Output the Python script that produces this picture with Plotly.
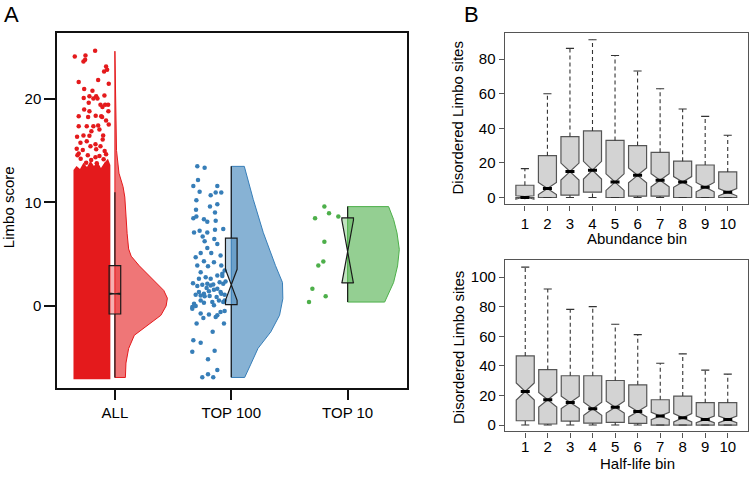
import plotly.graph_objects as go

W, H = 749, 477
FONT = "Liberation Sans, Arial, Helvetica, sans-serif"

# ---------------- Panel A data ----------------
groups = ["ALL", "TOP 100", "TOP 10"]
group_pos = [1, 2, 3]
point_colors = ["#E41A1C", "#377EB8", "#4DAF4A"]
violin_fills = ["rgba(228,26,28,0.6)", "rgba(55,126,184,0.6)", "rgba(77,175,74,0.6)"]
box_fills = ["rgba(228,26,28,0.35)", "rgba(55,126,184,0.35)", "rgba(77,175,74,0.35)"]

box_q1 = [-0.77, 0.13, 2.22]
box_median = [1.18, 2.04, 5.24]
box_q3 = [3.89, 6.54, 8.49]
box_low = [-6.89, -6.87, 0.38]
box_high = [10.97, 13.46, 9.58]
box_notch = [0.06, 1.5, 3.05]

# half-violin density profiles (relative half-widths, category units)
all_violin_y = [-6.89, -5.5, -4.1, -2.82, -1.86, -0.9, 0.0, 0.75, 1.5, 2.27, 3.1, 3.87,
                4.8, 5.5, 7.0, 9.0, 10.5, 11.5, 12.8, 15.0, 20.0, 24.56]
all_violin_w = [0.090, 0.095, 0.118, 0.167, 0.279, 0.395, 0.44, 0.451, 0.42, 0.352, 0.27,
                0.210, 0.14, 0.118, 0.105, 0.095, 0.085, 0.07, 0.035, 0.014, 0.008, 0.004]
top100_violin_y = [-6.89, -5.68, -4.08, -2.49, -0.89, 0.7, 2.27, 3.89, 5.5, 7.08, 10.27, 13.46]
top100_violin_w = [0.115, 0.165, 0.23, 0.34, 0.415, 0.443, 0.44, 0.38, 0.325, 0.275, 0.189, 0.112]
top10_violin_y = [0.38, 2.27, 3.86, 5.45, 7.05, 8.33, 9.58]
top10_violin_w = [0.318, 0.395, 0.429, 0.444, 0.424, 0.395, 0.352]

# ALL: dense cloud of points (outline of the solid block) and sparse high points
all_cloud_x = [-0.356, -0.356, -0.33, -0.30, -0.27, -0.24, -0.21, -0.18, -0.15, -0.12, -0.09,
               -0.06, -0.039, -0.039]
all_cloud_y = [-7.05, 13.1, 13.5, 13.2, 13.8, 13.4, 14.0, 13.5, 13.9, 13.3, 13.8, 14.2, 13.6, -7.05]
all_high_x = [-0.345, -0.253, -0.170, -0.270, -0.256, -0.076, -0.067, -0.093, -0.311, -0.053,
              -0.144, -0.264, -0.193, -0.219, -0.161, -0.185, -0.268, -0.150, -0.090, -0.225,
              -0.124, -0.084, -0.058, -0.107, -0.264, -0.219, -0.165, -0.118, -0.230, -0.110,
              -0.311, -0.076, -0.056, -0.311, -0.242, -0.144, -0.185, -0.053, -0.202, -0.133,
              -0.101, -0.270, -0.219, -0.325, -0.105, -0.296, -0.242, -0.167, -0.124, -0.328,
              -0.276, -0.161, -0.210, -0.088, -0.311, -0.322, -0.233, -0.133, -0.076, -0.167,
              -0.097, -0.294, -0.204, -0.247, -0.156, -0.076]
all_high_y = [24.05, 24.15, 24.6, 23.57, 23.73, 23.09, 22.77, 22.61, 21.59, 21.43,
              21.78, 20.92, 20.76, 20.21, 20.21, 19.99, 20.06, 19.99, 20.28, 19.58,
              19.41, 19.41, 19.41, 19.19, 18.93, 18.77, 18.33, 18.29, 18.23, 18.23,
              18.29, 17.88, 18.77, 17.33, 17.33, 17.40, 17.33, 17.50, 16.85, 17.02,
              16.44, 16.44, 16.41, 16.31, 16.06, 15.74, 15.89, 15.58, 15.41, 15.16,
              15.03, 15.10, 15.41, 14.93, 14.71, 14.52, 14.52, 14.45, 14.62, 14.33,
              14.14, 14.20, 14.07, 13.82, 13.75, 13.63]

top100_x = [-0.292, -0.229, -0.286, -0.326, -0.272, -0.120, -0.177, -0.134, -0.086, -0.300,
            -0.183, -0.303, -0.140, -0.326, -0.300, -0.206, -0.134, -0.272, -0.140, -0.069,
            -0.246, -0.229, -0.146, -0.120, -0.206, -0.263, -0.172, -0.306, -0.235, -0.149,
            -0.292, -0.200, -0.086, -0.057, -0.263, -0.220, -0.177, -0.120, -0.077, -0.329,
            -0.292, -0.249, -0.206, -0.177, -0.155, -0.100, -0.069, -0.049, -0.278, -0.235,
            -0.192, -0.149, -0.092, -0.263, -0.229, -0.186, -0.126, -0.086, -0.057, -0.320,
            -0.335, -0.306, -0.235, -0.163, -0.106, -0.069, -0.335, -0.263, -0.192, -0.134,
            -0.092, -0.057, -0.120, -0.240, -0.298, -0.063, -0.160, -0.326, -0.263, -0.335,
            -0.143, -0.200, -0.120, -0.249, -0.200, -0.155, -0.077, -0.057, -0.306, -0.212,
            -0.120, -0.263, -0.149, -0.278, -0.092, -0.235, -0.206, -0.120, -0.320]
top100_y = [13.48, 13.32, 12.14, 11.57, 11.02, 11.57, 10.67, 10.93, 10.93, 10.19,
            9.58, 9.27, 9.01, 8.47, 8.63, 8.12, 8.21, 7.25, 7.35, 7.41,
            6.71, 6.23, 6.45, 5.97, 5.59, 5.11, 5.11, 4.70, 4.31, 4.22,
            3.90, 3.83, 3.90, 3.42, 3.26, 2.78, 2.62, 2.94, 2.88, 2.20,
            1.92, 2.04, 2.14, 1.98, 2.08, 2.30, 2.14, 2.36, 1.34, 1.18,
            1.41, 1.57, 1.34, 1.02, 0.93, 0.96, 0.86, 1.18, 1.09, 0.22,
            -0.10, 0.00, 0.32, 0.38, 0.54, 0.38, -0.26, -0.73, -0.83, -1.05,
            -0.58, -0.48, -0.89, -1.15, -1.69, -1.69, -2.49, -3.29, -3.55, -4.41,
            -4.31, -5.14, -6.17, -6.87, -6.58, -6.87, 3.10, 0.54, 1.09, 1.73,
            1.66, 0.54, 0.06, 2.62, 4.86, 8.37, 7.09, 9.81, 7.09]

top10_x = [-0.280, -0.200, -0.160, -0.080, -0.200, -0.209, -0.252, -0.303, -0.332, -0.189]
top10_y = [8.47, 9.58, 8.95, 8.63, 6.20, 4.28, 3.90, 1.66, 0.38, 0.93]

# ---------------- Panel B data ----------------
bins = [1, 2, 3, 4, 5, 6, 7, 8, 9, 10]
abund_q1 = [0, 0, 1.35, 3.1, 0, 0.8, 0.8, 0, 0, 0]
abund_med = [0, 5.2, 15.0, 15.8, 8.9, 12.8, 10.0, 9.0, 6.0, 3.1]
abund_q3 = [7.1, 24.2, 35.2, 38.5, 33.0, 30.0, 26.1, 21.0, 18.8, 14.8]
abund_low = [0, 0, 0, 0, 0, 0, 0, 0, 0, 0]
abund_high = [16.7, 60.0, 86.2, 91.2, 82.1, 73.1, 62.9, 51.2, 46.9, 36.0]
abund_notch = [1.0, 3.5, 4.9, 5.1, 4.8, 4.3, 3.8, 3.1, 2.7, 2.1]

half_q1 = [2.9, 0.7, 2.7, 1.3, 1.8, 1.1, 0, 0, 0, 0]
half_med = [22.7, 17.1, 15.3, 11.0, 12.1, 9.2, 6.1, 4.9, 3.8, 3.8]
half_q3 = [46.7, 37.5, 33.3, 33.3, 30.1, 27.2, 17.1, 19.6, 15.1, 15.1]
half_low = [0, 0, 0, 0, 0, 0, 0, 0, 0, 0]
half_high = [106.7, 91.9, 78.2, 80.0, 68.1, 61.1, 41.8, 48.1, 37.1, 34.4]
half_notch = [5.8, 5.0, 4.2, 4.4, 4.0, 3.7, 2.5, 2.8, 2.2, 2.2]

fig = go.Figure()

# ---- Panel A: clouds of points ----
fig.add_trace(go.Scatter(
    x=[group_pos[0] + v for v in all_cloud_x], y=all_cloud_y, mode="lines",
    fill="toself", fillcolor=point_colors[0], line=dict(width=0, color=point_colors[0]),
    xaxis="x", yaxis="y", hoverinfo="skip", showlegend=False))
fig.add_trace(go.Scatter(
    x=[group_pos[0] + v for v in all_high_x], y=all_high_y, mode="markers",
    marker=dict(size=4.5, color=point_colors[0]), xaxis="x", yaxis="y",
    hoverinfo="skip", showlegend=False))
fig.add_trace(go.Scatter(
    x=[group_pos[1] + v for v in top100_x], y=top100_y, mode="markers",
    marker=dict(size=4.5, color=point_colors[1]), xaxis="x", yaxis="y",
    hoverinfo="skip", showlegend=False))
fig.add_trace(go.Scatter(
    x=[group_pos[2] + v for v in top10_x], y=top10_y, mode="markers",
    marker=dict(size=4.5, color=point_colors[2]), xaxis="x", yaxis="y",
    hoverinfo="skip", showlegend=False))

# ---- Panel A: half violins ----
violins = [(all_violin_y, all_violin_w), (top100_violin_y, top100_violin_w),
           (top10_violin_y, top10_violin_w)]
for i, (vy, vw) in enumerate(violins):
    p = group_pos[i]
    xs = [p] + [p + w for w in vw] + [p, p]
    ys = [vy[0]] + list(vy) + [vy[-1], vy[0]]
    fig.add_trace(go.Scatter(
        x=xs, y=ys, mode="lines", fill="toself", fillcolor=violin_fills[i],
        line=dict(width=1, color=point_colors[i]), xaxis="x", yaxis="y",
        hoverinfo="skip", showlegend=False))

# ---- Panel A: boxes (on overlay axes so they sit above the violins) ----
for i in range(3):
    fig.add_trace(go.Box(
        x=[group_pos[i]], q1=[box_q1[i]], median=[box_median[i]], q3=[box_q3[i]],
        lowerfence=[box_low[i]], upperfence=[box_high[i]], notchspan=[box_notch[i]],
        notched=True, notchwidth=0.5, width=0.1, whiskerwidth=0,
        fillcolor=box_fills[i], line=dict(color="#1a1a1a", width=1.2),
        boxpoints=False, xaxis="x4", yaxis="y4", hoverinfo="skip", showlegend=False))

# ---- Panel B ----
def add_panel_b(q1, med, q3, low, high, notch, xa, ya):
    fig.add_trace(go.Box(
        x=bins, q1=q1, median=med, q3=q3, lowerfence=q1, upperfence=q3,
        notchspan=notch, notched=True, notchwidth=0.5, width=0.8, whiskerwidth=0,
        fillcolor="#D3D3D3", line=dict(color="#555555", width=1.2),
        boxpoints=False, xaxis=xa, yaxis=ya, hoverinfo="skip", showlegend=False))
    wx, wy, cx, cy, mx, my = [], [], [], [], [], []
    for b, a, m, c, lo, hi in zip(bins, q1, med, q3, low, high):
        wx += [b, b, None, b, b, None]
        wy += [c, hi, None, lo, a, None]
        cx += [b - 0.18, b + 0.18, None, b - 0.18, b + 0.18, None]
        cy += [hi, hi, None, lo, lo, None]
        mx += [b - 0.2, b + 0.2, None]
        my += [m, m, None]
    fig.add_trace(go.Scatter(x=wx, y=wy, mode="lines",
                             line=dict(color="#333333", width=1.1, dash="4px,3px"),
                             xaxis=xa, yaxis=ya, hoverinfo="skip", showlegend=False))
    fig.add_trace(go.Scatter(x=cx, y=cy, mode="lines",
                             line=dict(color="#333333", width=1.1),
                             xaxis=xa, yaxis=ya, hoverinfo="skip", showlegend=False))
    fig.add_trace(go.Scatter(x=mx, y=my, mode="lines",
                             line=dict(color="#000000", width=3),
                             xaxis=xa, yaxis=ya, hoverinfo="skip", showlegend=False))

add_panel_b(abund_q1, abund_med, abund_q3, abund_low, abund_high, abund_notch, "x2", "y2")
add_panel_b(half_q1, half_med, half_q3, half_low, half_high, half_notch, "x3", "y3")

def px(x):
    return x / W

def py(y):
    return 1 - y / H

tickfont = dict(family=FONT, size=15, color="#000000")

axA_x = dict(domain=[px(57.3), px(407)], range=[0.505, 3.51], tickvals=group_pos,
             ticktext=groups, showline=True, mirror=True, linecolor="#111111", linewidth=2,
             ticks="outside", ticklen=10, tickwidth=2, tickcolor="#111111",
             showgrid=False, zeroline=False, tickfont=tickfont)
axA_y = dict(domain=[py(390), py(33.3)], range=[-7.94, 26.3], tickvals=[0, 10, 20],
             showline=True, mirror=True, linecolor="#111111", linewidth=2,
             ticks="outside", ticklen=11, tickwidth=2, tickcolor="#111111",
             showgrid=False, zeroline=False, tickfont=tickfont, anchor="x")

def b_axes(dom_x, dom_y, yrange, ytick, anchor, xstandoff):
    xa = dict(domain=dom_x, range=[0.1, 10.9], tickvals=bins, showline=True, mirror=True,
              linecolor="#555555", linewidth=1.2, ticks="outside", ticklen=5, tickwidth=1.2,
              tickcolor="#555555", showgrid=False, zeroline=False, tickfont=tickfont,
              anchor=anchor[1], ticklabelstandoff=xstandoff)
    ya = dict(domain=dom_y, range=yrange, tickvals=ytick, showline=True, mirror=True,
              linecolor="#555555", linewidth=1.2, ticks="outside", ticklen=5, tickwidth=1.2,
              tickcolor="#555555", showgrid=False, zeroline=False, tickfont=tickfont,
              anchor=anchor[0])
    return xa, ya

x2, y2 = b_axes([px(504.6), px(748)], [py(205.3), py(33.3)], [-4.0, 95.0],
                [0, 20, 40, 60, 80], ("x2", "y2"), 0)
x3, y3 = b_axes([px(505), px(748)], [py(433.3), py(261)], [-4.35, 111.6],
                [0, 20, 40, 60, 80, 100], ("x3", "y3"), -4)

ann_font = dict(family=FONT, size=15, color="#000000")
annotations = [
    dict(text="A", x=px(11), y=py(15), showarrow=False, font=dict(family=FONT, size=22, color="#000")),
    dict(text="B", x=px(471), y=py(15), showarrow=False, font=dict(family=FONT, size=22, color="#000")),
    dict(text="Limbo score", x=px(8), y=py(208), textangle=-90, showarrow=False, font=ann_font),
    dict(text="Disordered Limbo sites", x=px(458), y=py(119), textangle=-90, showarrow=False, font=ann_font),
    dict(text="Disordered Limbo sites", x=px(458), y=py(349.5), textangle=-90, showarrow=False, font=ann_font),
    dict(text="Abundance bin", x=px(637), y=py(239.5), showarrow=False, font=ann_font),
    dict(text="Half-life bin", x=px(637), y=py(465), showarrow=False, font=ann_font),
]
for a in annotations:
    a.update(xref="paper", yref="paper", xanchor="center", yanchor="middle")

fig.update_layout(
    width=W, height=H, margin=dict(l=0, r=0, t=0, b=0),
    paper_bgcolor="white", plot_bgcolor="rgba(0,0,0,0)",
    font=dict(family=FONT, size=15, color="#000"),
    boxmode="overlay", showlegend=False,
    xaxis=axA_x, yaxis=axA_y,
    xaxis4=dict(overlaying="x", range=[0.505, 3.51], visible=False, anchor="y4"),
    yaxis4=dict(overlaying="y", range=[-7.94, 26.3], visible=False, anchor="x4"),
    xaxis2=x2, yaxis2=y2, xaxis3=x3, yaxis3=y3,
    annotations=annotations,
)

fig.write_html("out.html", config={"displayModeBar": False},
               post_script="document.body.style.margin='0';document.body.style.overflow='hidden';")
